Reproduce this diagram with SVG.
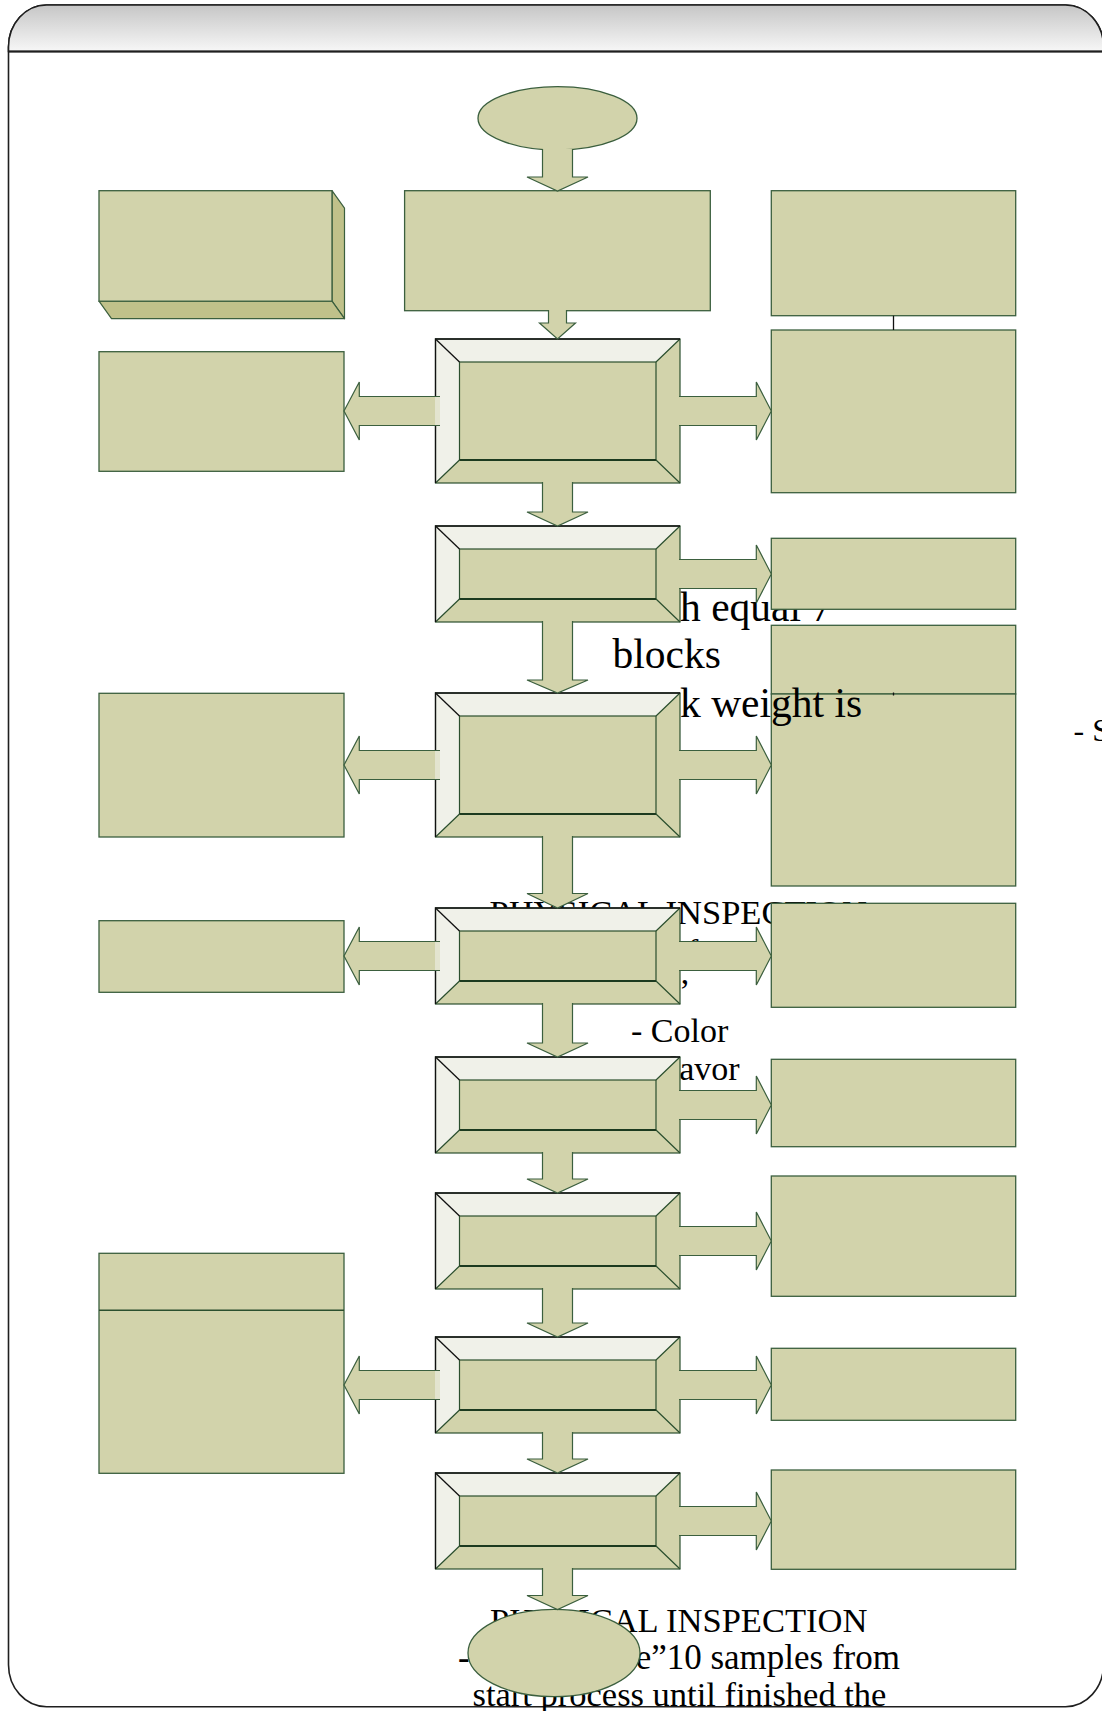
<svg xmlns="http://www.w3.org/2000/svg" xmlns:xlink="http://www.w3.org/1999/xlink" width="1102" height="1711" viewBox="0 0 1102 1711">
<defs>
<linearGradient id="hdr" x1="0" y1="0" x2="0" y2="1">
<stop offset="0" stop-color="#c6c6c6"/>
<stop offset="1" stop-color="#f7f7f7"/>
</linearGradient>
<style>
.box{fill:#d2d3ab;stroke:#3b5f3e;stroke-width:1.3}
.side{fill:#c0c18a;stroke:#3b5f3e;stroke-width:1.2;stroke-linejoin:round}
.arrow{fill:#d2d3ab;stroke:#3b5f3e;stroke-width:1.2;stroke-linejoin:miter}
.lite{fill:#f0f1e9}
.bl{fill:none;stroke:#2b4f2e;stroke-width:1.2}
.blk{fill:none;stroke:#111;stroke-width:1.3}
.tick{stroke:#111;stroke-width:1.3}
text{font-family:"Liberation Serif","Times New Roman",serif;fill:#000}
</style>
<g id="bev96">
<rect width="244.5" height="96" fill="#d2d3ab"/>
<polygon class="lite" points="0,0 244.5,0 220.5,23 24,23"/>
<polygon class="lite" points="0,0 24,23 24,73 0,96"/>
<rect x="24" y="23" width="196.5" height="50" class="bl"/>
<line x1="24" y1="73" x2="220.5" y2="73" stroke="#1c3a1f" stroke-width="2"/>
<path class="bl" d="M220.5,23 L244.5,0 M220.5,73 L244.5,96 M24,73 L0,96"/>
<path class="blk" d="M24,23 L0,0"/>
<rect width="244.5" height="96" class="bl"/>
<path class="blk" d="M0,96 V0 H244.5"/>
</g>
<g id="bev144">
<rect width="244.5" height="144" fill="#d2d3ab"/>
<polygon class="lite" points="0,0 244.5,0 220.5,23 24,23"/>
<polygon class="lite" points="0,0 24,23 24,121 0,144"/>
<rect x="24" y="23" width="196.5" height="98" class="bl"/>
<line x1="24" y1="121" x2="220.5" y2="121" stroke="#1c3a1f" stroke-width="2"/>
<path class="bl" d="M220.5,23 L244.5,0 M220.5,121 L244.5,144 M24,121 L0,144"/>
<path class="blk" d="M24,23 L0,0"/>
<rect width="244.5" height="144" class="bl"/>
<path class="blk" d="M0,144 V0 H244.5"/>
</g>
</defs>

<g id="frame">
<rect x="8.5" y="5" width="1095" height="1701.7" rx="38" ry="42" fill="#ffffff" stroke="#1f1f1f" stroke-width="1.6"/>
<path d="M8.5,51.5 V47 A38,42 0 0 1 46.5,5 H1065.5 A38,42 0 0 1 1103.5,47 V51.5 Z" fill="url(#hdr)" stroke="#1f1f1f" stroke-width="1.6"/>
<line x1="8.5" y1="51.5" x2="1103.5" y2="51.5" stroke="#1f1f1f" stroke-width="2"/>
</g>

<g id="box-r4"><rect class="box" x="771.3" y="625.3" width="244.4" height="68.7"/></g>
<g id="box-r5"><rect class="box" x="771.3" y="694" width="244.4" height="192"/></g>
<line class="tick" x1="893.5" y1="692.5" x2="893.5" y2="695.5"/>

<g id="labels">
<text x="680" y="621" font-size="41.5">h equal 7</text>
<text x="612.5" y="668" font-size="41.5">blocks</text>
<text x="680" y="716.5" font-size="41.5">k weight is</text>
<text x="1073.5" y="741" font-size="32">- S</text>
<text x="489.5" y="924" font-size="34.5">PHYSICAL INSPECTION</text>
<text x="687" y="963" font-size="34">f</text>
<text x="679" y="1002" font-size="34">’</text>
<text x="631" y="1041.5" font-size="34">- Color</text>
<text x="631" y="1080" font-size="34">- Flavor</text>
<text x="490" y="1631.5" font-size="34.5">PHYSICAL INSPECTION</text>
<text x="458" y="1669" font-size="35">-</text>
<text x="900" y="1669" font-size="35" text-anchor="end">e”10 samples from</text>
<text x="472.5" y="1706" font-size="34.5">start process until finished the</text>
</g>

<g id="start"><ellipse class="box" cx="557.5" cy="118.3" rx="79.5" ry="31.7"/></g>
<g id="box-top"><rect class="box" x="404.6" y="190.7" width="305.7" height="120"/></g>
<g id="box-l1">
<polygon class="side" points="332,190.7 344.5,208.2 344.5,318.7 332,301.2"/>
<polygon class="side" points="99,301.2 111.5,318.7 344.5,318.7 332,301.2"/>
<rect class="box" x="99" y="190.7" width="233" height="110.5"/>
</g>
<g id="box-l2"><rect class="box" x="99" y="351.7" width="245" height="119.6"/></g>
<g id="box-l3"><rect class="box" x="99" y="693.3" width="245" height="143.7"/></g>
<g id="box-l4"><rect class="box" x="99" y="920.7" width="245" height="71.6"/></g>
<g id="box-l5"><rect class="box" x="99" y="1253.3" width="245" height="220"/><line x1="99" y1="1310.3" x2="344" y2="1310.3" stroke="#2b4f2e" stroke-width="1.5"/></g>

<g id="box-r1"><rect class="box" x="771.3" y="190.7" width="244.4" height="125"/></g>
<g id="box-r2"><rect class="box" x="771.3" y="330" width="244.4" height="162.7"/></g>
<g id="box-r3"><rect class="box" x="771.3" y="538.3" width="244.4" height="71"/></g>
<g id="box-r6"><rect class="box" x="771.3" y="903.3" width="244.4" height="104"/></g>
<g id="box-r7"><rect class="box" x="771.3" y="1059.3" width="244.4" height="87.4"/></g>
<g id="box-r8"><rect class="box" x="771.3" y="1176" width="244.4" height="120.3"/></g>
<g id="box-r9"><rect class="box" x="771.3" y="1348.3" width="244.4" height="72"/></g>
<g id="box-r10"><rect class="box" x="771.3" y="1470" width="244.4" height="99.3"/></g>

<g id="bevel-1"><use xlink:href="#bev144" href="#bev144" x="435.5" y="339"/></g>
<g id="bevel-2"><use xlink:href="#bev96" href="#bev96" x="435.5" y="526"/></g>
<g id="bevel-3"><use xlink:href="#bev144" href="#bev144" x="435.5" y="693"/></g>
<g id="bevel-4"><use xlink:href="#bev96" href="#bev96" x="435.5" y="908"/></g>
<g id="bevel-5"><use xlink:href="#bev96" href="#bev96" x="435.5" y="1057"/></g>
<g id="bevel-6"><use xlink:href="#bev96" href="#bev96" x="435.5" y="1193"/></g>
<g id="bevel-7"><use xlink:href="#bev96" href="#bev96" x="435.5" y="1337"/></g>
<g id="bevel-8"><use xlink:href="#bev96" href="#bev96" x="435.5" y="1473"/></g>

<g id="end"><ellipse class="box" cx="554" cy="1653" rx="86" ry="43.7"/></g>

<g id="connectors">
<line class="tick" x1="893.5" y1="315.7" x2="893.5" y2="330"/>
<path class="arrow" d="M542.5,149 V177 H527 L557.5,191 L588,177 H572.5 V149"/>
<path class="arrow" d="M548.5,310 V323 H539.5 L557.5,339 L575.5,323 H566.5 V310"/>
<path class="arrow" d="M542.5,482 V512 H527 L557.5,526 L588,512 H572.5 V482"/>
<path class="arrow" d="M542.5,621 V680 H527 L557.5,693 L588,680 H572.5 V621"/>
<path class="arrow" d="M542.5,836 V893.5 H527 L557.5,908 L588,893.5 H572.5 V836"/>
<path class="arrow" d="M542.5,1003 V1043 H527 L557.5,1057 L588,1043 H572.5 V1003"/>
<path class="arrow" d="M542.5,1152 V1179 H527 L557.5,1193 L588,1179 H572.5 V1152"/>
<path class="arrow" d="M542.5,1288 V1323 H527 L557.5,1337 L588,1323 H572.5 V1288"/>
<path class="arrow" d="M542.5,1432 V1459 H527 L557.5,1473 L588,1459 H572.5 V1432"/>
<path class="arrow" d="M542.5,1568 V1595.5 H527 L557.5,1609.5 L588,1595.5 H572.5 V1568"/>
<path class="arrow" d="M679,396.5 H756.3 V382 L771.3,411 L756.3,440 V425.5 H679"/>
<path class="arrow" d="M679,559.5 H756.3 V545 L771.3,574 L756.3,603 V588.5 H679"/>
<path class="arrow" d="M679,750.5 H756.3 V736 L771.3,765 L756.3,794 V779.5 H679"/>
<path class="arrow" d="M679,941.5 H756.3 V927 L771.3,956 L756.3,985 V970.5 H679"/>
<path class="arrow" d="M679,1090.5 H756.3 V1076 L771.3,1105 L756.3,1134 V1119.5 H679"/>
<path class="arrow" d="M679,1226.5 H756.3 V1212 L771.3,1241 L756.3,1270 V1255.5 H679"/>
<path class="arrow" d="M679,1370.5 H756.3 V1356 L771.3,1385 L756.3,1414 V1399.5 H679"/>
<path class="arrow" d="M679,1506.5 H756.3 V1492 L771.3,1521 L756.3,1550 V1535.5 H679"/>
<path class="arrow" d="M440,396.5 H359.3 V382 L344,411 L359.3,440 V425.5 H440"/>
<rect x="435" y="397" width="5" height="28" fill="#e3e4cf"/>
<path class="arrow" d="M440,750.5 H359.3 V736 L344,765 L359.3,794 V779.5 H440"/>
<rect x="435" y="751" width="5" height="28" fill="#e3e4cf"/>
<path class="arrow" d="M440,941.5 H359.3 V927 L344,956 L359.3,985 V970.5 H440"/>
<rect x="435" y="942" width="5" height="28" fill="#e3e4cf"/>
<path class="arrow" d="M440,1370.5 H359.3 V1356 L344,1385 L359.3,1414 V1399.5 H440"/>
<rect x="435" y="1371" width="5" height="28" fill="#e3e4cf"/>
</g>
</svg>
